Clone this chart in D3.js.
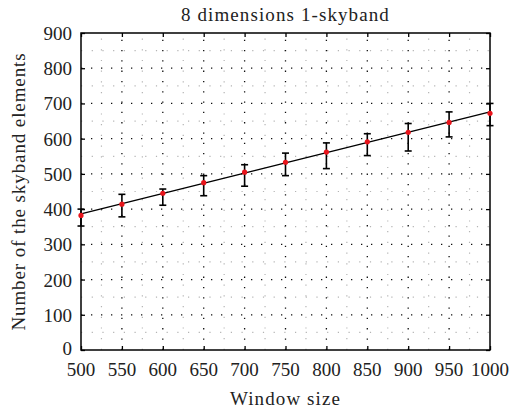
<!DOCTYPE html>
<html>
<head>
<meta charset="utf-8">
<script src="https://cdn.jsdelivr.net/npm/d3@7"></script>
<style>
  body { margin: 0; background: #fff; }
  text { font-family: "Liberation Serif", serif; fill: #222; }
</style>
</head>
<body>
<div id="app"></div>
<script>
// data
let windowSizes = [500, 550, 600, 650, 700, 750, 800, 850, 900, 950, 1000]
let means = [382, 414, 445, 475, 505, 533, 562, 591, 618, 646, 672]
let lower = [352, 378, 411, 438, 465, 495, 515, 552, 565, 605, 637]
let upper = [400, 442, 457, 495, 526, 559, 588, 614, 643, 676, 700]
let xTicks = [500, 550, 600, 650, 700, 750, 800, 850, 900, 950, 1000]
let yTicks = [0, 100, 200, 300, 400, 500, 600, 700, 800, 900]

let width = 510, height = 415
let m = {left: 81, right: 20, top: 33, bottom: 65}

let svg = d3.select("#app").append("svg")
    .attr("width", width)
    .attr("height", height)

let x = d3.scaleLinear().domain([500, 1000]).range([m.left, width - m.right])
let y = d3.scaleLinear().domain([0, 900]).range([height - m.bottom, m.top])

// minor grid
let minorX = d3.range(525, 1000, 50)
let minorY = d3.range(50, 900, 100)
let grid = svg.append("g")
grid.selectAll(".mx").data(minorX).enter().append("line")
    .attr("x1", d => x(d)).attr("x2", d => x(d))
    .attr("y1", y(0)).attr("y2", y(900))
    .attr("stroke", "#b4b4b4").attr("stroke-width", 1.2)
    .attr("stroke-dasharray", "1.2,9.5")
grid.selectAll(".my").data(minorY).enter().append("line")
    .attr("y1", d => y(d)).attr("y2", d => y(d))
    .attr("x1", x(500)).attr("x2", x(1000))
    .attr("stroke", "#b4b4b4").attr("stroke-width", 1.2)
    .attr("stroke-dasharray", "1.2,9.5")

// major grid
grid.selectAll(".gx").data(xTicks.slice(1, -1)).enter().append("line")
    .attr("x1", d => x(d)).attr("x2", d => x(d))
    .attr("y1", y(0)).attr("y2", y(900))
    .attr("stroke", "#111").attr("stroke-width", 1.3)
    .attr("stroke-dasharray", "1.3,9")
grid.selectAll(".gy").data(yTicks.slice(1, -1)).enter().append("line")
    .attr("y1", d => y(d)).attr("y2", d => y(d))
    .attr("x1", x(500)).attr("x2", x(1000))
    .attr("stroke", "#111").attr("stroke-width", 1.3)
    .attr("stroke-dasharray", "1.3,8.7")

// axes (ticks pointing inward, matlab style)
svg.append("g")
    .attr("transform", `translate(0,${y(0)})`)
    .call(d3.axisTop(x).tickValues(xTicks).tickSize(4).tickFormat(""))
svg.append("g")
    .attr("transform", `translate(0,${y(900)})`)
    .call(d3.axisBottom(x).tickValues(xTicks).tickSize(4).tickFormat(""))
svg.append("g")
    .attr("transform", `translate(${x(500)},0)`)
    .call(d3.axisRight(y).tickValues(yTicks).tickSize(4).tickFormat(""))
svg.append("g")
    .attr("transform", `translate(${x(1000)},0)`)
    .call(d3.axisLeft(y).tickValues(yTicks).tickSize(4).tickFormat(""))
svg.selectAll(".domain").remove()
svg.selectAll(".tick line").attr("stroke", "#000").attr("stroke-width", 1.3)

svg.append("rect")
    .attr("x", x(500)).attr("y", y(900))
    .attr("width", x(1000) - x(500)).attr("height", y(0) - y(900))
    .attr("fill", "none").attr("stroke", "#000").attr("stroke-width", 1.5)

// tick labels
svg.append("g").selectAll("text").data(xTicks).enter().append("text")
    .attr("x", d => x(d)).attr("y", y(0) + 26)
    .attr("text-anchor", "middle").attr("font-size", 19)
    .text(d => d)
svg.append("g").selectAll("text").data(yTicks).enter().append("text")
    .attr("x", x(500) - 9).attr("y", d => y(d) + (d === 0 ? 5 : 7))
    .attr("text-anchor", "end").attr("font-size", 19)
    .text(d => d)

// linear fit through means
let mx = d3.mean(windowSizes), my = d3.mean(means)
let slope = d3.sum(windowSizes, (w, i) => (w - mx) * (means[i] - my)) /
    d3.sum(windowSizes, w => (w - mx) * (w - mx))
let icpt = my - slope * mx
svg.append("path")
    .datum([500, 1000])
    .attr("d", d3.line().x(d => x(d)).y(d => y(icpt + slope * d)))
    .attr("stroke", "#000").attr("stroke-width", 1.4).attr("fill", "none")

// error bars
let pts = windowSizes.map((w, i) => ({w: w, m: means[i], lo: lower[i], hi: upper[i]}))
let eb = svg.append("g").attr("stroke", "#000").attr("stroke-width", 1.6)
eb.selectAll(".v").data(pts).enter().append("line")
    .attr("x1", d => x(d.w)).attr("x2", d => x(d.w))
    .attr("y1", d => y(d.lo)).attr("y2", d => y(d.hi))
eb.selectAll(".t").data(pts).enter().append("line")
    .attr("x1", d => x(d.w) - 3.5).attr("x2", d => x(d.w) + 3.5)
    .attr("y1", d => y(d.hi)).attr("y2", d => y(d.hi))
eb.selectAll(".b").data(pts).enter().append("line")
    .attr("x1", d => x(d.w) - 3.5).attr("x2", d => x(d.w) + 3.5)
    .attr("y1", d => y(d.lo)).attr("y2", d => y(d.lo))

svg.append("g").selectAll("circle").data(pts).enter().append("circle")
    .attr("cx", d => x(d.w)).attr("cy", d => y(d.m))
    .attr("r", 2.6).attr("fill", "#e8141b")

// titles
svg.append("text")
    .attr("x", (x(500) + x(1000)) / 2).attr("y", 21)
    .attr("text-anchor", "middle").attr("font-size", 19)
    .attr("letter-spacing", 1.1)
    .text("8 dimensions 1-skyband")
svg.append("text")
    .attr("x", (x(500) + x(1000)) / 2).attr("y", 405)
    .attr("text-anchor", "middle").attr("font-size", 19)
    .attr("letter-spacing", 1.1)
    .text("Window size")
svg.append("text")
    .attr("transform", `translate(25,${(y(0) + y(900)) / 2}) rotate(-90)`)
    .attr("text-anchor", "middle").attr("font-size", 19)
    .attr("letter-spacing", 0.9)
    .text("Number of the skyband elements")
</script>
</body>
</html>
